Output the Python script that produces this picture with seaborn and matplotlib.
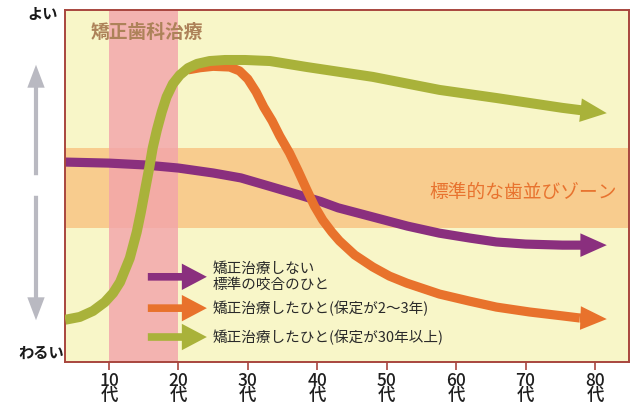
import matplotlib
matplotlib.use("Agg")
import matplotlib.pyplot as plt
import seaborn as sns
import pandas as pd

# ---- data (age in years, bite quality 0 = わるい, 100 = よい) ----
green_age = [3.7, 5.8, 7.7, 9.4, 10.6, 11.6, 13.0, 14.0, 14.6, 15.2, 15.8, 16.3,
             16.9, 17.6, 18.3, 19.2, 20.2, 21.4, 22.7, 24.5, 26.7, 29.6, 33.2,
             38.5, 48.0, 57.6, 65.8, 75.3, 78.1, 81.7]
green_val = [12.0, 12.8, 14.5, 17.0, 19.6, 22.7, 29.5, 36.9, 42.6, 48.9, 55.1, 60.8,
             65.9, 71.0, 75.3, 79.0, 81.5, 83.5, 84.7, 85.5, 85.8, 85.8, 85.5,
             83.8, 81.0, 77.3, 75.0, 72.2, 71.5, 70.7]

orange_age = [21.4, 23.1, 25.0, 27.4, 28.8, 30.0, 31.2, 32.3, 33.5, 34.6, 36.0,
              37.2, 38.5, 39.6, 40.8, 42.1, 43.2, 45.4, 48.0, 50.4, 52.9, 57.6,
              61.9, 65.8, 70.6, 75.3, 77.8, 81.7]
orange_val = [83.0, 83.6, 84.0, 83.8, 82.7, 80.4, 76.7, 72.4, 68.5, 64.2, 59.4,
              54.5, 48.9, 44.3, 40.3, 36.9, 34.4, 30.4, 27.0, 24.4, 22.4, 19.3,
              17.3, 15.6, 14.2, 13.1, 12.5, 12.2]

purple_age = [3.7, 10.0, 15.0, 20.0, 25.0, 29.0, 33.0, 37.5, 40.5, 43.0, 48.0, 53.0,
              57.6, 62.0, 65.8, 70.0, 75.3, 78.1, 81.7]
purple_val = [56.8, 56.5, 56.0, 55.1, 53.7, 52.3, 50.0, 47.4, 45.6, 43.8, 41.2, 38.6,
              36.6, 35.2, 34.1, 33.5, 33.2, 33.2, 33.2]

treatment_span = [10, 20]          # 矯正歯科治療
standard_zone = [38.1, 60.8]       # 標準的な歯並びゾーン

decades = [10, 20, 30, 40, 50, 60, 70, 80]
decade_labels = ["10\n代", "20\n代", "30\n代", "40\n代", "50\n代", "60\n代", "70\n代", "80\n代"]

legend_labels = ["矯正治療しない\n標準の咬合のひと",
                 "矯正治療したひと(保定が2～3年)",
                 "矯正治療したひと(保定が30年以上)"]
legend_rows = [24.2, 15.3, 7.1]

# ---- style ----
sns.set_theme(style="white")
plt.rcParams["font.family"] = ["Noto Sans CJK JP", "DejaVu Sans"]

C_BG = "#f8f6c8"
C_PINK = "#f2a3ab"
C_ZONE = "#f8cc8e"
C_GREEN = "#a9b23a"
C_ORANGE = "#e8722c"
C_PURPLE = "#8a2f7e"
C_FRAME = "#a8463e"

fig = plt.figure(figsize=(6.37, 4.05), dpi=100)
fig.patch.set_facecolor("white")
ax = fig.add_axes([65 / 637, 43 / 405, 564 / 637, 352 / 405])
ax.set_facecolor(C_BG)

ax.axhspan(*standard_zone, color=C_ZONE, lw=0, zorder=0.5)
ax.axvspan(*treatment_span, color=C_PINK, alpha=0.8, lw=0, zorder=0.6)

series = [
    (purple_age, purple_val, C_PURPLE, 6.6, 2),
    (orange_age, orange_val, C_ORANGE, 6.6, 3),
    (green_age, green_val, C_GREEN, 7.2, 4),
]
for xs, ys, col, lw, z in series:
    df = pd.DataFrame({"age": xs[:-1], "value": ys[:-1]})
    sns.lineplot(data=df, x="age", y="value", color=col, lw=lw, ax=ax,
                 estimator=None, sort=False, zorder=z,
                 solid_capstyle="butt", solid_joinstyle="round")
    ax.annotate("", xy=(xs[-1], ys[-1]), xytext=(xs[-2], ys[-2]),
                arrowprops=dict(arrowstyle=f"simple,head_length=19,head_width=17,tail_width={lw}",
                                mutation_scale=1, color=col, lw=0,
                                shrinkA=0, shrinkB=0),
                zorder=z)

# legend arrows with their labels
for (col, row, label) in zip([C_PURPLE, C_ORANGE, C_GREEN], legend_rows, legend_labels):
    ax.annotate("", xy=(24.1, row), xytext=(15.6, row),
                arrowprops=dict(arrowstyle="simple,head_length=18,head_width=19,tail_width=5.5",
                                mutation_scale=1, color=col, lw=0,
                                shrinkA=0, shrinkB=0),
                zorder=5)
    ax.text(24.9, row, label, fontsize=10.5, color="#2a2a2a", va="center",
            ha="left", linespacing=1.15, zorder=6)

ax.text(7.3, 93.5, "矯正歯科治療", fontsize=13.5, color="#ad8259",
        fontweight="bold", va="center", ha="left", zorder=6)
ax.text(83.2, 48.3, "標準的な歯並びゾーン", fontsize=13.5, color="#e8732f",
        va="center", ha="right", zorder=6)

ax.set_xlim(3.67, 84.9)
ax.set_ylim(0, 100)
ax.set_xticks(decades)
ax.set_xticklabels(decade_labels, fontsize=12.5, linespacing=0.78, color="#1e1e1e",
                   fontweight="medium")
ax.set_yticks([])
ax.set_xlabel("")
ax.set_ylabel("")
ax.tick_params(axis="x", bottom=True, length=6, width=1.2, color=C_FRAME, pad=1.5)
for s in ax.spines.values():
    s.set_color(C_FRAME)
    s.set_linewidth(1.4)

# vertical quality scale on the left
fig.text(58 / 637, 1 - 14 / 405, "よい", fontsize=11, fontweight="bold",
         ha="right", va="center", color="#1a1a1a")
fig.text(64 / 637, 1 - 353 / 405, "わるい", fontsize=11, fontweight="bold",
         ha="right", va="center", color="#1a1a1a")
for y0, y1 in [(405 - 178, 405 - 62), (405 - 193, 405 - 323)]:
    fig.add_artist(matplotlib.patches.FancyArrowPatch(
        (36, y0), (36, y1), transform=None,
        arrowstyle="simple,head_length=16.5,head_width=12.5,tail_width=3",
        mutation_scale=1, color="#b9b9c1", lw=0))

fig.savefig("out.png", dpi=100)
